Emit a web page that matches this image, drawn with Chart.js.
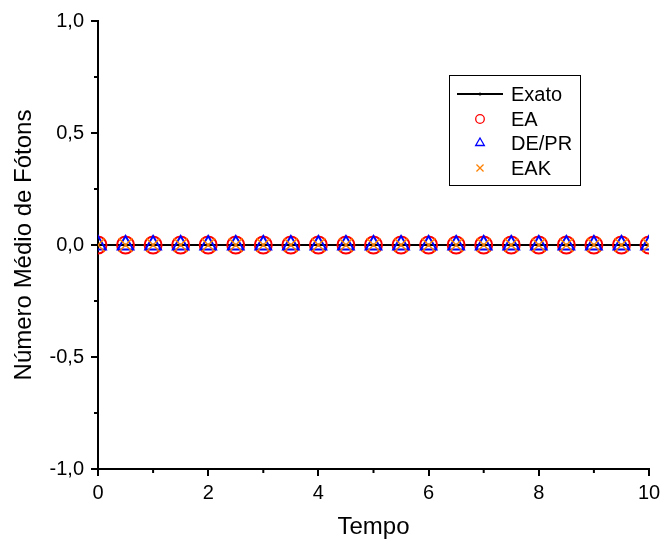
<!DOCTYPE html>
<html>
<head>
<meta charset="utf-8">
<title>Número Médio de Fótons</title>
<script src="https://cdn.jsdelivr.net/npm/chart.js@4"></script>
<style>
    html, body { margin: 0; padding: 0; background: #fff; }
    #wrap { width: 661px; height: 542px; position: relative; }
</style>
</head>
<body>
<div id="wrap"><canvas id="chartFotons"></canvas></div>
<script>
// ── Data ─────────────────────────────────
const tempo  = [0, 0.5, 1, 1.5, 2, 2.5, 3, 3.5, 4, 4.5, 5, 5.5, 6, 6.5, 7, 7.5, 8, 8.5, 9, 9.5, 10];
const exato  = [0, 0, 0, 0, 0, 0, 0, 0, 0, 0, 0, 0, 0, 0, 0, 0, 0, 0, 0, 0, 0];
const ea     = [0, 0, 0, 0, 0, 0, 0, 0, 0, 0, 0, 0, 0, 0, 0, 0, 0, 0, 0, 0, 0];
const dePr   = [0, 0, 0, 0, 0, 0, 0, 0, 0, 0, 0, 0, 0, 0, 0, 0, 0, 0, 0, 0, 0];
const eak    = [0, 0, 0, 0, 0, 0, 0, 0, 0, 0, 0, 0, 0, 0, 0, 0, 0, 0, 0, 0, 0];

const xMinorTicks = [1, 3, 5, 7, 9];
const yMinorTicks = [-0.75, -0.25, 0.25, 0.75];

const FONT = "'Liberation Sans', Arial, sans-serif";
Chart.defaults.font.family = FONT;
Chart.defaults.color = '#000';

function pts(ys) {
    return tempo.map(function(t, i) { return { x: t, y: ys[i] }; });
}

const series = [
    { label: 'Exato', data: exato, color: '#000000', style: 'circle',   radius: 1.5, width: 0,   line: true },
    { label: 'EA',    data: ea,    color: '#ff0000', style: 'circle',   radius: 8.5, width: 2,   line: false },
    { label: 'DE/PR', data: dePr,  color: '#0000ff', style: 'triangle', radius: 9,   width: 2,   line: false },
    { label: 'EAK',   data: eak,   color: '#ff8000', style: 'crossRot', radius: 9.5, width: 1.5, line: false }
];

// ── Minor ticks + boxed legend ───────────
const extrasPlugin = {
    id: 'extras',
    afterDraw: function(chart) {
        const ctx = chart.ctx;
        const xs = chart.scales.x, ys = chart.scales.y;
        const area = chart.chartArea;
        ctx.save();
        ctx.strokeStyle = '#000';
        ctx.lineWidth = 2;
        xMinorTicks.forEach(function(v) {
            const px = xs.getPixelForValue(v);
            ctx.beginPath();
            ctx.moveTo(px, area.bottom);
            ctx.lineTo(px, area.bottom + 4);
            ctx.stroke();
        });
        yMinorTicks.forEach(function(v) {
            const py = ys.getPixelForValue(v);
            ctx.beginPath();
            ctx.moveTo(area.left, py);
            ctx.lineTo(area.left - 4, py);
            ctx.stroke();
        });

        // legend box
        const box = { left: 449.5, top: 75.5, width: 131, height: 110 };
        ctx.lineWidth = 1;
        ctx.strokeStyle = '#000';
        ctx.strokeRect(box.left, box.top, box.width, box.height);

        const rows = [94, 119, 143, 168];
        ctx.font = '20px ' + FONT;
        ctx.textBaseline = 'middle';
        ctx.textAlign = 'left';
        series.forEach(function(s, i) {
            const y = rows[i];
            ctx.strokeStyle = s.color;
            ctx.fillStyle = s.color;
            if (s.line) {
                ctx.lineWidth = 2;
                ctx.beginPath();
                ctx.moveTo(457, y);
                ctx.lineTo(503, y);
                ctx.stroke();
                ctx.beginPath();
                ctx.arc(480, y, 1.5, 0, Math.PI * 2);
                ctx.fill();
            } else {
                ctx.fillStyle = 'rgba(0,0,0,0)';
                ctx.lineWidth = 1.3;
                Chart.helpers.drawPoint(ctx, {
                    pointStyle: s.style,
                    radius: s.style === 'circle' ? 4.3 : 5,
                    borderWidth: 1.3,
                    rotation: 0
                }, 480, y);
            }
            ctx.fillStyle = '#000';
            ctx.fillText(s.label, 511, y + 1);
        });
        ctx.restore();
    }
};

// ── Chart ────────────────────────────────
const ctx = document.getElementById('chartFotons');

new Chart(ctx, {
    type: 'scatter',
    data: {
        datasets: series.map(function(s, i) {
            return {
                label: s.label,
                data: pts(s.data),
                showLine: s.line,
                borderColor: s.color,
                backgroundColor: s.line ? s.color : 'rgba(0,0,0,0)',
                borderWidth: s.line ? 2 : s.width,
                pointStyle: s.style,
                pointRadius: s.radius,
                pointBorderColor: s.color,
                pointBackgroundColor: s.line ? s.color : 'rgba(0,0,0,0)',
                pointBorderWidth: s.width,
                order: series.length - i
            };
        })
    },
    options: {
        responsive: true,
        maintainAspectRatio: false,
        animation: false,
        layout: { padding: { left: 0, top: 21, right: 12, bottom: 0 } },
        plugins: {
            legend: { display: false },
            tooltip: { enabled: false }
        },
        scales: {
            x: {
                type: 'linear',
                min: 0,
                max: 10,
                afterFit: function(scale) {
                    scale.height = 73;
                    scale.paddingLeft = 0;
                    scale.paddingRight = 0;
                },
                border: { display: true, color: '#000', width: 2 },
                grid: { display: true, drawOnChartArea: false, color: '#000', lineWidth: 2, tickLength: 7 },
                ticks: {
                    stepSize: 2,
                    padding: 5,
                    font: { size: 20 },
                    color: '#000',
                    callback: function(v) { return String(v); }
                },
                title: {
                    display: true,
                    text: 'Tempo',
                    font: { size: 24 },
                    color: '#000',
                    padding: { top: 0, bottom: 0 }
                }
            },
            y: {
                min: -1,
                max: 1,
                afterFit: function(scale) {
                    scale.width = 98;
                    scale.paddingTop = 0;
                    scale.paddingBottom = 0;
                },
                border: { display: true, color: '#000', width: 2 },
                grid: { display: true, drawOnChartArea: false, color: '#000', lineWidth: 2, tickLength: 7 },
                ticks: {
                    stepSize: 0.5,
                    padding: 7,
                    font: { size: 20 },
                    color: '#000',
                    callback: function(v) { return v.toFixed(1).replace('.', ','); }
                },
                title: {
                    display: true,
                    text: 'Número Médio de Fótons',
                    font: { size: 24 },
                    color: '#000',
                    padding: { top: 10, bottom: 0 }
                }
            }
        }
    },
    plugins: [extrasPlugin]
});
</script>
</body>
</html>
